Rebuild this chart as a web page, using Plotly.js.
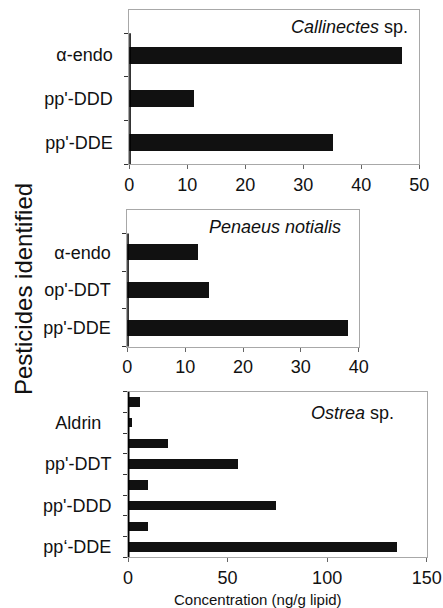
<!DOCTYPE html>
<html>
<head>
<meta charset="utf-8">
<script src="https://cdn.plot.ly/plotly-3.0.1.min.js"></script>
<style>html,body{margin:0;padding:0;background:#fff;}#chart{width:443px;height:608px;}</style>
</head>
<body>
<div id="chart"></div>
<script>
// Panel 1: Callinectes sp.
const callCats = ["pp'-DDE", "pp'-DDD", "\u03b1-endo"];
const callVals = [35.1, 11.2, 47.1];
// Panel 2: Penaeus notialis
const penCats = ["pp'-DDE", "op'-DDT", "\u03b1-endo"];
const penVals = [38.1, 14.2, 12.2];
// Panel 3: Ostrea sp. (pairs: labelled lower bar, unlabelled upper bar)
const ostCats = ["pp\u2018-DDE", "pp'-DDD", "pp'-DDT", "Aldrin\u00a0\u00a0"];
const ostValsA = [135, 74.3, 55.1, 2.2];
const ostValsB = [10, 10, 20, 6];
const xTitle = "Concentration (ng/g lipid)";
const yTitle = "Pesticides identified";

const W = 443, H = 608;
const FONT = "Liberation Sans, Arial, Helvetica, sans-serif";
const BAR = "#111111";
const FRAME = "#a8a8a8";

function idx(a){ return a.map((_, i) => i); }
function bounds(n){ const b = []; for (let i = 0; i <= n; i++) b.push(i - 0.5); return b; }

const ostPosA = ostCats.map((_, i) => 2 * i);
const ostPosB = ostCats.map((_, i) => 2 * i + 1);

const traces = [
  {type: 'bar', orientation: 'h', x: callVals, y: idx(callCats), width: 0.39,
   marker: {color: BAR}, xaxis: 'x', yaxis: 'y', hoverinfo: 'x'},
  {type: 'bar', orientation: 'h', x: penVals, y: idx(penCats), width: 0.42,
   marker: {color: BAR}, xaxis: 'x2', yaxis: 'y2', hoverinfo: 'x'},
  {type: 'bar', orientation: 'h', x: ostValsA, y: ostPosA, width: 0.45,
   marker: {color: BAR}, xaxis: 'x3', yaxis: 'y3', hoverinfo: 'x'},
  {type: 'bar', orientation: 'h', x: ostValsB, y: ostPosB, width: 0.45,
   marker: {color: BAR}, xaxis: 'x3', yaxis: 'y3', hoverinfo: 'x'}
];

function xax(d0, d1, range, dtick, anchor){
  return {domain: [d0 / W, d1 / W], range: range, dtick: dtick, tick0: 0,
    anchor: anchor, showgrid: false, zeroline: false, showline: true, mirror: true,
    linecolor: FRAME, linewidth: 1, ticks: 'outside', ticklen: 4, tickcolor: '#666',
    tickfont: {family: FONT, size: 18, color: '#111'}, fixedrange: true};
}
function yax(top, bottom, range, vals, text, bnds, anchor){
  return {domain: [1 - bottom / H, 1 - top / H], range: range, anchor: anchor,
    tickmode: 'array', tickvals: vals, ticktext: text, ticks: '',
    ticklabelstandoff: 12,
    minor: {tickmode: 'array', tickvals: bnds, ticks: 'outside', ticklen: 4, tickwidth: 1, tickcolor: '#333', showgrid: false},
    showgrid: false, zeroline: false, showline: true, mirror: true,
    linecolor: FRAME, linewidth: 1,
    tickfont: {family: FONT, size: 18, color: '#111'}, fixedrange: true};
}

const axLine = {color: '#000', width: 3};
const layout = {
  width: W, height: H, margin: {l: 0, r: 0, t: 0, b: 0},
  paper_bgcolor: '#fff', plot_bgcolor: '#fff', showlegend: false, bargap: 0,
  font: {family: FONT, color: '#111'},
  xaxis: xax(129.3, 419.3, [0, 50], 10, 'y'),
  yaxis: yax(10, 164.3, [-0.5, 3.03], idx(callCats), callCats, bounds(callCats.length), 'x'),
  xaxis2: xax(127.3, 358.7, [0, 40], 10, 'y2'),
  yaxis2: yax(210, 346.7, [-0.5, 3.12], idx(penCats), penCats, bounds(penCats.length), 'x2'),
  xaxis3: xax(128, 426.7, [0, 150], 50, 'y3'),
  yaxis3: yax(391.7, 557.3, [-0.5, 7.5], ostPosA, ostCats, bounds(ostCats.length * 2), 'x3'),
  shapes: [
    {type: 'line', layer: 'above', xref: 'x', yref: 'y', x0: 0, x1: 0, y0: -0.5, y1: callCats.length - 0.5, line: axLine},
    {type: 'line', layer: 'above', xref: 'x2', yref: 'y2', x0: 0, x1: 0, y0: -0.5, y1: penCats.length - 0.5, line: axLine},
    {type: 'line', layer: 'above', xref: 'x3', yref: 'y3', x0: 0, x1: 0, y0: -0.5, y1: ostCats.length * 2 - 0.5, line: axLine}
  ],
  annotations: [
    {xref: 'paper', yref: 'paper', x: 410 / W, y: 1 - 26.7 / H, xanchor: 'right', yanchor: 'middle', showarrow: false,
     text: '<i>Callinectes</i> sp.', font: {family: FONT, size: 18, color: '#111'}},
    {xref: 'paper', yref: 'paper', x: 343 / W, y: 1 - 226.7 / H, xanchor: 'right', yanchor: 'middle', showarrow: false,
     text: '<i>Penaeus notialis</i>', font: {family: FONT, size: 18, color: '#111'}},
    {xref: 'paper', yref: 'paper', x: 396 / W, y: 1 - 413.3 / H, xanchor: 'right', yanchor: 'middle', showarrow: false,
     text: '<i>Ostrea</i> sp.', font: {family: FONT, size: 18, color: '#111'}},
    {xref: 'paper', yref: 'paper', x: 257.5 / W, y: 1 - 599 / H, xanchor: 'center', yanchor: 'middle', showarrow: false,
     text: xTitle, font: {family: FONT, size: 15, color: '#111'}},
    {xref: 'paper', yref: 'paper', x: 23 / W, y: 1 - 289 / H, xanchor: 'center', yanchor: 'middle', showarrow: false,
     textangle: -90, text: yTitle, font: {family: FONT, size: 24, color: '#111'}}
  ]
};

Plotly.newPlot('chart', traces, layout, {displayModeBar: false, staticPlot: true});
</script>
</body>
</html>
